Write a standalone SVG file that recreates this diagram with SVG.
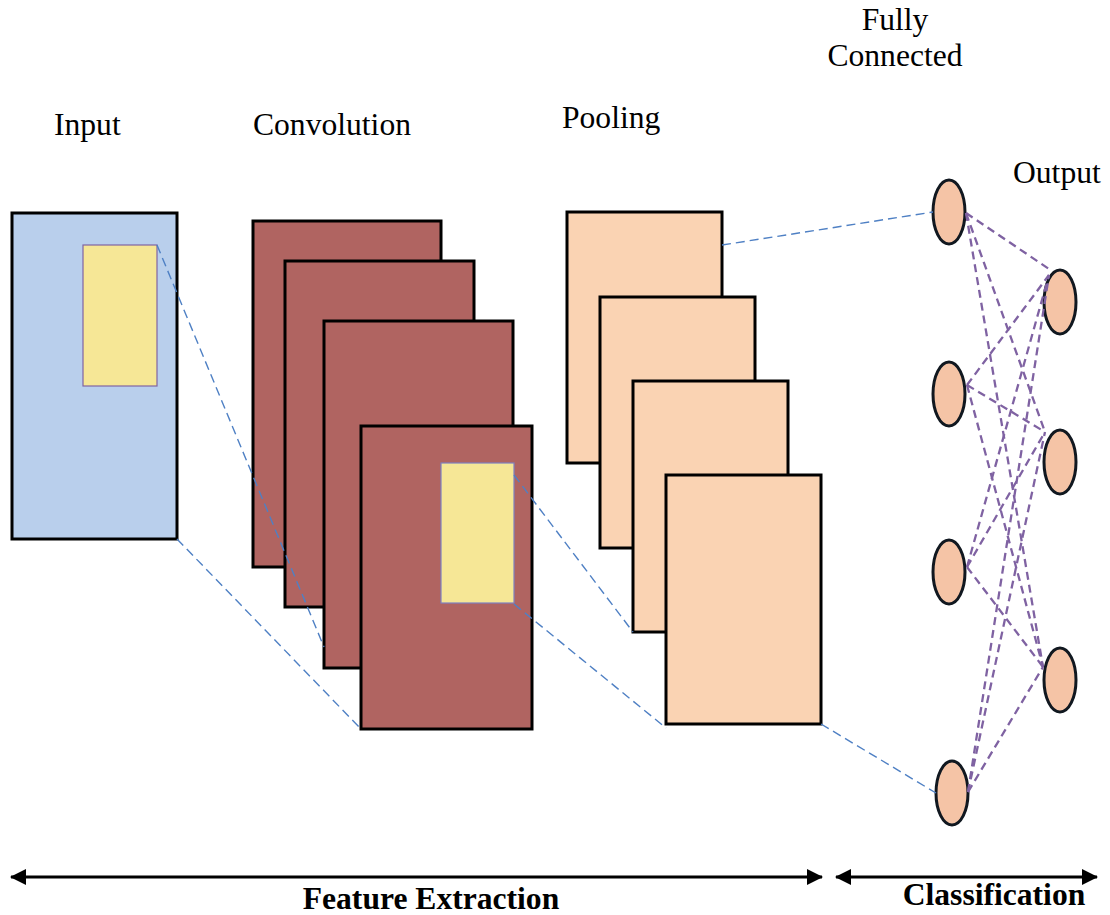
<svg xmlns="http://www.w3.org/2000/svg" width="1110" height="915" viewBox="0 0 1110 915">
<defs>
<style>
.lbl{font-family:"Liberation Serif","Times New Roman",serif;font-size:31.6px;fill:#000}
.bold{font-weight:bold}
.frame{stroke:#000;stroke-width:3}
.inp{fill:#B9CFEC}
.yel{fill:#F6E796;stroke:#8064A2;stroke-width:1.2}
.conv{fill:#B06461}
.pool{fill:#FAD3B3}
.node{fill:#F5C4A6;stroke:#111820;stroke-width:3}
.blue{stroke:#4F80C4;stroke-width:1.4;stroke-dasharray:9 5;fill:none}
.purp{stroke:#7F62A2;stroke-width:2.3;stroke-dasharray:8 5;fill:none}
.axis{stroke:#000;stroke-width:3}
</style>
<marker id="ah" viewBox="0 0 16 16" refX="15" refY="8" markerWidth="16" markerHeight="16" orient="auto-start-reverse" markerUnits="userSpaceOnUse">
<path d="M0,0 L16,8 L0,16 z" fill="#000"/>
</marker>
</defs>
<rect width="1110" height="915" fill="#fff"/>

<g id="labels">
<text class="lbl" x="54" y="135">Input</text>
<text class="lbl" x="253" y="135">Convolution</text>
<text class="lbl" x="562" y="128">Pooling</text>
<text class="lbl" x="895" y="30" text-anchor="middle">Fully</text>
<text class="lbl" x="895" y="66" text-anchor="middle">Connected</text>
<text class="lbl" x="1013" y="183">Output</text>
</g>

<g id="input">
<rect class="inp frame" x="12" y="213" width="165" height="326"/>
<rect class="yel" x="83" y="245" width="74" height="141"/>
</g>

<g id="convolution">
<rect class="conv frame" x="253" y="221" width="188" height="346"/>
<rect class="conv frame" x="285" y="261" width="189" height="346"/>
<rect class="conv frame" x="324" y="321" width="189" height="347"/>
<rect class="conv frame" x="361" y="426" width="171" height="303"/>
<rect class="yel" x="441" y="463" width="73" height="140" style="stroke:#7F80C0"/>
</g>

<g id="pooling">
<rect class="pool frame" x="567" y="212" width="155" height="251"/>
<rect class="pool frame" x="600" y="297" width="155" height="251"/>
<rect class="pool frame" x="633" y="381" width="155" height="251"/>
<rect class="pool frame" x="666" y="475" width="155" height="249"/>
</g>

<g id="fully-connected">
<ellipse class="node" cx="949" cy="212" rx="16" ry="32"/>
<ellipse class="node" cx="949" cy="394" rx="16" ry="32"/>
<ellipse class="node" cx="949" cy="572" rx="16" ry="32"/>
<ellipse class="node" cx="952" cy="793" rx="16" ry="32"/>
</g>

<g id="output">
<ellipse class="node" cx="1060" cy="302" rx="16" ry="32"/>
<ellipse class="node" cx="1060" cy="462" rx="16" ry="32"/>
<ellipse class="node" cx="1060" cy="680" rx="16" ry="32"/>
</g>

<g id="connectors">
<line class="blue" x1="157" y1="245" x2="324" y2="647"/>
<line class="blue" x1="177" y1="539" x2="361" y2="729"/>
<line class="blue" x1="514" y1="475" x2="633" y2="632"/>
<line class="blue" x1="514" y1="604" x2="666" y2="728"/>
<line class="blue" x1="722" y1="245" x2="933" y2="212"/>
<line class="blue" x1="821" y1="724" x2="936" y2="793"/>

<line class="purp" x1="966" y1="213" x2="1052" y2="271"/>
<line class="purp" x1="966" y1="213" x2="1045" y2="432"/>
<line class="purp" x1="966" y1="213" x2="1043" y2="667"/>
<line class="purp" x1="967" y1="385" x2="1049" y2="275"/>
<line class="purp" x1="967" y1="385" x2="1045" y2="432"/>
<line class="purp" x1="967" y1="385" x2="1043" y2="667"/>
<line class="purp" x1="967" y1="567" x2="1049" y2="275"/>
<line class="purp" x1="967" y1="567" x2="1045" y2="432"/>
<line class="purp" x1="967" y1="567" x2="1043" y2="667"/>
<line class="purp" x1="968" y1="792" x2="1049" y2="275"/>
<line class="purp" x1="968" y1="792" x2="1045" y2="432"/>
<line class="purp" x1="968" y1="792" x2="1043" y2="667"/>
</g>

<g id="sections">
<line class="axis" x1="11" y1="877" x2="822" y2="877" marker-start="url(#ah)" marker-end="url(#ah)"/>
<line class="axis" x1="836" y1="877" x2="1097" y2="877" marker-start="url(#ah)" marker-end="url(#ah)"/>
<text class="lbl bold" x="431" y="909" text-anchor="middle">Feature Extraction</text>
<text class="lbl bold" x="994" y="905" text-anchor="middle">Classification</text>
</g>
</svg>
